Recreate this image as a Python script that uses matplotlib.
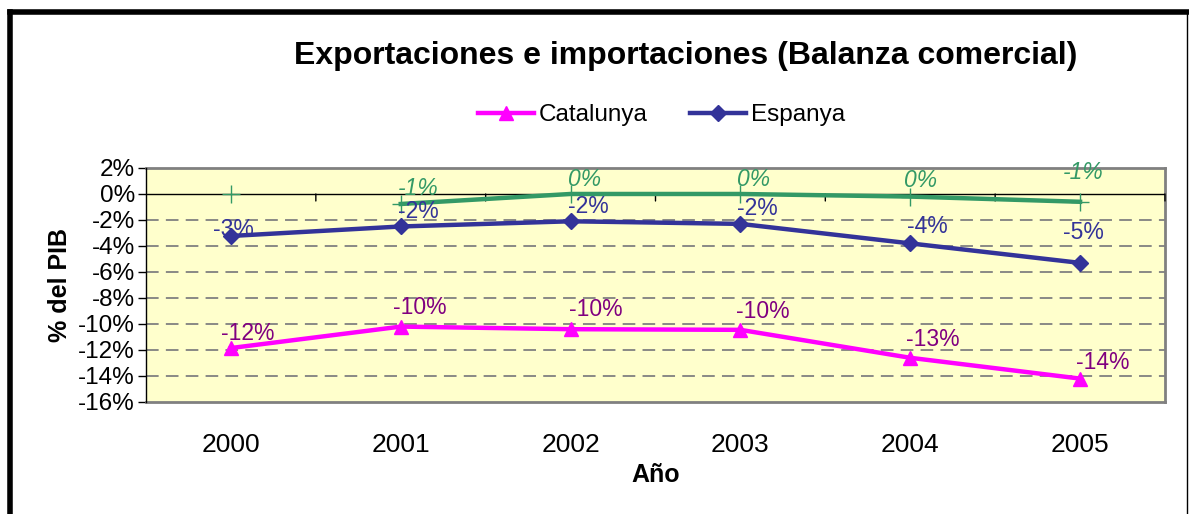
import numpy as np
import matplotlib.pyplot as plt
from matplotlib.lines import Line2D

years = ['2000', '2001', '2002', '2003', '2004', '2005']
catalunya = [-11.85, -10.2, -10.4, -10.45, -12.6, -14.2]
espanya = [-3.23, -2.5, -2.1, -2.3, -3.8, -5.3]
# third series (no legend entry), 2000 shown only as a marker
otra = [0.0, -0.77, 0.0, 0.0, -0.2, -0.6]

plt.rcParams['font.family'] = ['Liberation Sans', 'DejaVu Sans']

fig = plt.figure(figsize=(11.89, 5.14), dpi=100)
ax = fig.add_axes([0.1228, 0.2179, 0.8570, 0.4553])
ax.set_facecolor('#FFFFCC')
x = np.arange(len(years))

c_cat = '#FF00FF'
c_esp = '#333399'
c_otr = '#339966'

ax.plot(x[1:], otra[1:], color=c_otr, lw=3.2, zorder=4)
ax.plot(x, otra, color=c_otr, lw=0, marker='+', ms=13, mew=1, zorder=4)
ax.plot(x, espanya, color=c_esp, lw=3.2, marker='D', ms=8, zorder=5, label='Espanya')
ax.plot(x, catalunya, color=c_cat, lw=3.2, marker='^', ms=10, zorder=5, label='Catalunya')

def pct(v):
    return str(int(round(v))) + '%'

# label offsets in pixels (dx, dy)
off_esp = [(-18, 6), (-3, 15), (-3, 15), (-3, 15), (-3, 17), (-17, 30)]
off_cat = [(-10, 15), (-8, 19), (-2, 20), (-4, 18), (-4, 18), (-4, 16)]
off_otr = [None, (-3, 15), (-3, 14), (-3, 14), (-6, 16), (-17, 29)]

for i in range(len(years)):
    ax.annotate(pct(espanya[i]), xy=(x[i], espanya[i]), xytext=off_esp[i],
                textcoords='offset pixels', ha='left', va='center',
                color=c_esp, fontsize=16.5, zorder=6)
    ax.annotate(pct(catalunya[i]), xy=(x[i], catalunya[i]), xytext=off_cat[i],
                textcoords='offset pixels', ha='left', va='center',
                color='#800080', fontsize=16.5, zorder=6)
    if off_otr[i] is not None:
        ax.annotate(pct(otra[i]), xy=(x[i], otra[i]), xytext=off_otr[i],
                    textcoords='offset pixels', ha='left', va='center',
                    color=c_otr, fontsize=16.5, style='italic', zorder=6)

ax.set_xlim(-0.5, 5.5)
ax.set_ylim(-16, 2)
ax.set_yticks(np.arange(-16, 3, 2))
ax.set_yticklabels([str(v) + '%' for v in range(-16, 3, 2)], fontsize=17.5)
ax.set_xticks(x)
ax.set_xticklabels(years, fontsize=19)
ax.tick_params(axis='x', length=0, pad=22)
ax.tick_params(axis='y', length=6, width=1, direction='out', pad=2)

# gridlines
for v in range(-14, 0, 2):
    ax.axhline(v, color='#808080', lw=1.3, dashes=(7, 4), zorder=1)

# category axis crossing at zero, with ticks between categories
ax.axhline(0, color='black', lw=1, zorder=3)
for b in np.arange(0.5, 5.6, 1.0):
    ax.annotate('', xy=(b, 0), xytext=(0, -7), textcoords='offset pixels',
                arrowprops=dict(arrowstyle='-', color='black', lw=1,
                                shrinkA=0, shrinkB=0))

for s in ['top', 'right', 'bottom']:
    ax.spines[s].set_color('#808080')
    ax.spines[s].set_linewidth(2)
ax.spines['left'].set_color('black')
ax.spines['left'].set_linewidth(1)
ax.spines['left'].set_zorder(7)

ax.set_ylabel('% del PIB', fontsize=18, fontweight='bold', labelpad=4)
ax.set_xlabel('Año', fontsize=18, fontweight='bold', labelpad=5)

fig.text(0.577, 0.892, 'Exportaciones e importaciones (Balanza comercial)',
         ha='center', va='center', fontsize=23, fontweight='bold')

h, l = ax.get_legend_handles_labels()
fig.legend(h[::-1], l[::-1], loc='center', bbox_to_anchor=(0.5564, 0.776),
           ncol=2, frameon=False, fontsize=17.5, handlelength=2.3,
           columnspacing=1.75, handletextpad=0.2)

# outer frame
fig.add_artist(Line2D([0.0085, 0.0085], [0.0, 0.976], color='black', lw=4,
                      transform=fig.transFigure, solid_capstyle='projecting'))
fig.add_artist(Line2D([0.0085, 0.998], [0.976, 0.976], color='black', lw=4,
                      transform=fig.transFigure))
fig.add_artist(Line2D([0.998, 0.998], [0.0, 0.976], color='black', lw=1,
                      transform=fig.transFigure))

fig.savefig('out.png', dpi=100)
